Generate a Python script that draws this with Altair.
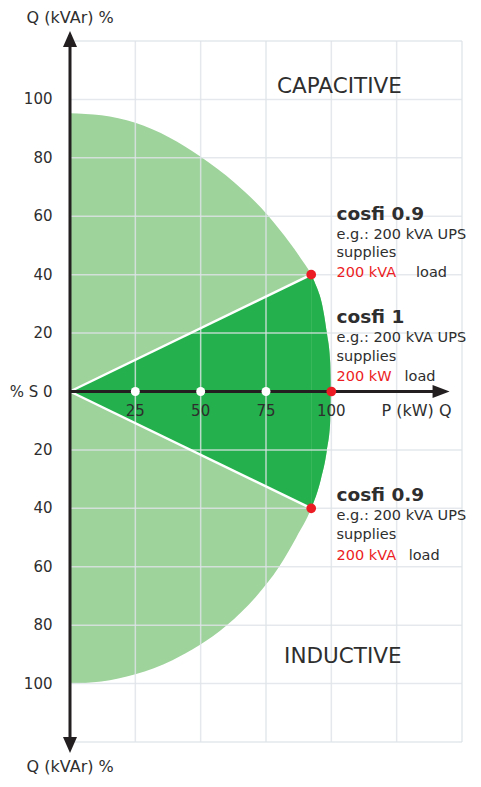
import altair as alt
import pandas as pd

# ---- data ----
# upper (capacitive) boundary of the power circle: (P, Q)
upper_x = [0, 12, 25, 38, 50, 63, 76, 80, 84, 88, 92.3, 94.5, 96.3, 98.3, 99.6, 100]
upper_y = [95.3, 94.6, 92, 87, 80.4, 71.5, 60, 55.6, 51.0, 46.0, 40, 35.5, 30.5, 20, 10, 0]
# lower (inductive) boundary
lower_x = [0, 12, 25, 39.2, 49.3, 60, 71.4, 80, 86.6, 92.3, 96, 98.3, 99.6, 100]
lower_y = [-100, -99.3, -96.8, -92, -87, -80, -70, -60, -50, -40, -30, -20, -10, 0]

cos_pts_x = [92.3, 100, 92.3]        # red operating points
cos_pts_y = [40, 0, -40]
tick_x = [25, 50, 75]                # white dots on the P axis
x_labels = ["25", "50", "75", "100"]
x_label_vals = [25, 50, 75, 100]
y_labels = ["100", "80", "60", "40", "20", "% S 0", "20", "40", "60", "80", "100"]
y_label_vals = [100, 80, 60, 40, 20, 0, -20, -40, -60, -80, -100]
grid_x = [25, 50, 75, 100, 125, 150]
grid_y = [-120, -100, -80, -60, -40, -20, 20, 40, 60, 80, 100, 120]

LIGHT = "#9ed39c"
DARK = "#24b14d"
RED = "#ec1c24"
TXT = "#2e2e2e"
AX = "#231f20"
FONT = "DejaVu Sans"

xs = alt.Scale(domain=[0, 150], nice=False, zero=False)
ys = alt.Scale(domain=[-120, 120], nice=False, zero=False)
X = lambda f: alt.X(f, type="quantitative", scale=xs, axis=None)
Y = lambda f: alt.Y(f, type="quantitative", scale=ys, axis=None)

up_df = pd.DataFrame({"x": upper_x, "y": upper_y, "y0": 0.0})
lo_df = pd.DataFrame({"x": lower_x, "y": lower_y, "y0": 0.0})


def band(df, color, interp="monotone"):
    return alt.Chart(df).mark_area(color=color, interpolate=interp, opacity=1).encode(
        x=X("x"), y=Y("y"), y2="y0:Q")


light_up = band(up_df, LIGHT)
light_lo = band(lo_df, LIGHT)

# dark sector: triangle between the two cosfi lines + the circle cap beyond them
tri = pd.DataFrame({"x": [0, cos_pts_x[0]], "y": [0, cos_pts_y[0]], "y2": [0, cos_pts_y[2]]})
dark_tri = alt.Chart(tri).mark_area(color=DARK, opacity=1).encode(x=X("x"), y=Y("y"), y2="y2:Q")
dark_cap_up = band(up_df[up_df.x >= cos_pts_x[0]], DARK)
dark_cap_lo = band(lo_df[lo_df.x >= cos_pts_x[2]], DARK)

gx = alt.Chart(pd.DataFrame({"x": grid_x})).mark_rule(color="#dfe3e8", strokeWidth=1.5, opacity=0.8).encode(x=X("x"))
gy = alt.Chart(pd.DataFrame({"y": grid_y})).mark_rule(color="#dfe3e8", strokeWidth=1.5, opacity=0.8).encode(y=Y("y"))

wl = pd.DataFrame({"x": [0, cos_pts_x[0], 0, cos_pts_x[2]], "y": [0, cos_pts_y[0], 0, cos_pts_y[2]], "g": ["a", "a", "b", "b"]})
white_lines = alt.Chart(wl).mark_line(color="white", strokeWidth=2.5).encode(x=X("x"), y=Y("y"), detail="g:N")

vaxis = alt.Chart(pd.DataFrame({"x": [0], "y": [-122], "y2": [122]})).mark_rule(color=AX, strokeWidth=3).encode(
    x=X("x"), y=Y("y"), y2="y2")
haxis = alt.Chart(pd.DataFrame({"x": [0], "x2": [140], "y": [0]})).mark_rule(color=AX, strokeWidth=3).encode(
    x=X("x"), x2="x2", y=Y("y"))

up = alt.Chart(pd.DataFrame({"x": [0], "y": [120.7]})).mark_point(
    shape="M0,-1L0.875,1L-0.875,1Z", size=256, filled=True, color=AX, opacity=1).encode(x=X("x"), y=Y("y"))
down = alt.Chart(pd.DataFrame({"x": [0], "y": [-121]})).mark_point(
    shape="M0,1L0.875,-1L-0.875,-1Z", size=256, filled=True, color=AX, opacity=1).encode(x=X("x"), y=Y("y"))
right = alt.Chart(pd.DataFrame({"x": [142], "y": [0]})).mark_point(
    shape="M1,0L-1,0.76L-1,-0.76Z", size=289, filled=True, color=AX, opacity=1).encode(x=X("x"), y=Y("y"))

wdots = alt.Chart(pd.DataFrame({"x": tick_x, "y": [0] * len(tick_x)})).mark_circle(
    color="white", size=80, opacity=1).encode(x=X("x"), y=Y("y"))
rdots = alt.Chart(pd.DataFrame({"x": cos_pts_x, "y": cos_pts_y})).mark_circle(
    color=RED, size=95, opacity=1).encode(x=X("x"), y=Y("y"))


def txt(texts, xv, yv, size=14.5, color=TXT, weight="normal", align="left", baseline="alphabetic"):
    df = pd.DataFrame({"t": texts, "x": xv, "y": yv})
    return alt.Chart(df).mark_text(font=FONT, fontSize=size, color=color, fontWeight=weight,
                                   align=align, baseline=baseline).encode(
        x=X("x"), y=Y("y"), text="t:N")


ylab = txt(y_labels, [-6.7] * len(y_labels), y_label_vals, size=15, align="right", baseline="middle")
xlab = txt(x_labels, x_label_vals, [-6.7] * 4, size=15, align="center", baseline="middle")
plab = txt(["P (kW) Q"], [132.6], [-6.7], size=16, align="center", baseline="middle")
titles = txt(["Q (kVAr) %", "Q (kVAr) %"], [-16.6, -16.6], [128.0, -128.4], size=16, baseline="middle")
regions = txt(["CAPACITIVE", "INDUCTIVE"], [103.1, 104.4], [102.2, -93], size=21.5, align="center")

AX0 = 102.0
head = txt(["cosfi 0.9", "cosfi 1", "cosfi 0.9"], [AX0] * 3, [58.7, 23.3, -37.5], size=18.5, weight="bold")
body = txt(["e.g.: 200 kVA UPS", "supplies", "e.g.: 200 kVA UPS", "supplies", "e.g.: 200 kVA UPS", "supplies"],
           [AX0] * 6, [52.3, 46.0, 16.9, 10.4, -44.1, -50.6])
redt = txt(["200 kVA", "200 kW", "200 kVA"], [AX0] * 3, [39.2, 3.7, -57.6], color=RED)
loadt = txt(["load", "load", "load"], [132.4, 128.0, 129.6], [39.2, 3.7, -57.6])

chart = alt.layer(
    light_up, light_lo, dark_tri, dark_cap_up, dark_cap_lo, gx, gy, white_lines, vaxis, haxis,
    up, down, right, wdots, rdots, ylab, xlab, plab, titles, regions, head, body, redt, loadt,
).properties(
    width=392, height=701,
    autosize=alt.AutoSizeParams(type="none"),
    padding={"left": 62, "top": 33, "right": 11, "bottom": 36},
).configure_view(stroke=None)

chart.save("out.html", embed_options={"renderer": "svg", "actions": False})
